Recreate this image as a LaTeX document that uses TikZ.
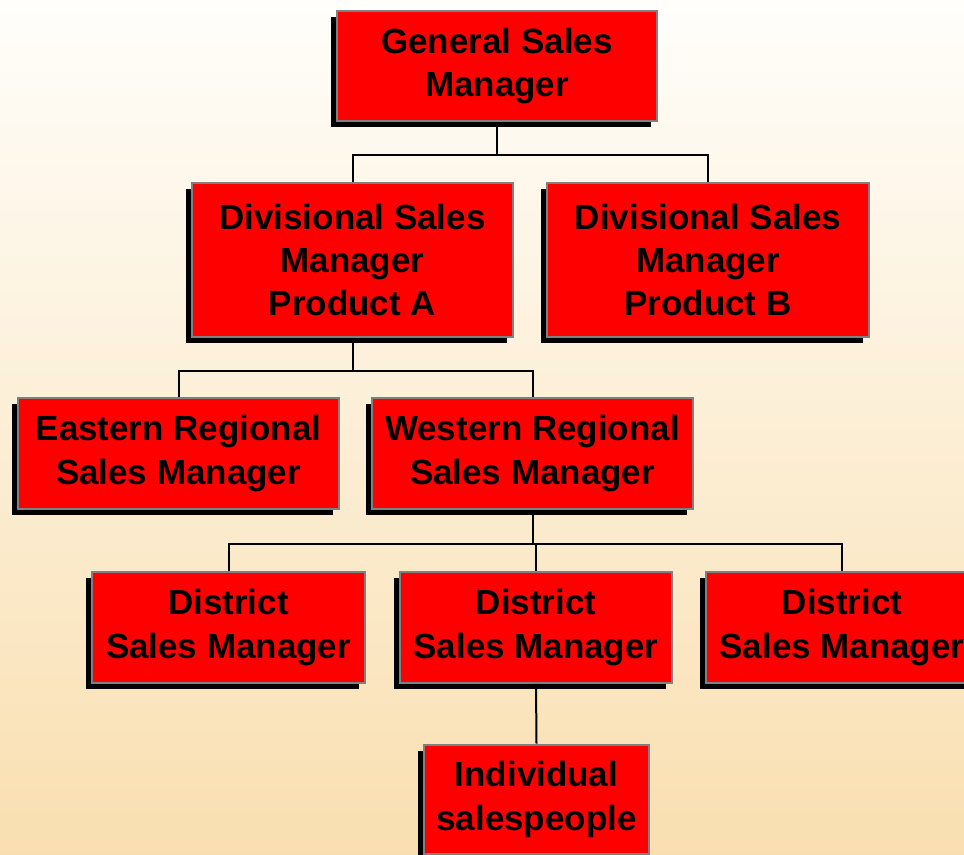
\documentclass[tikz,border=0pt]{standalone}
\usepackage{fontspec}
\setmainfont{Liberation Sans}
\usetikzlibrary{shadows}
\definecolor{bgtop}{RGB}{255,254,251}
\definecolor{bgbot}{RGB}{249,223,176}
\definecolor{boxred}{RGB}{255,0,0}
\definecolor{boxrim}{RGB}{128,128,128}
\begin{document}
\begin{tikzpicture}[x=0.02cm,y=-0.02cm,
		post/.style={draw=boxrim,line width=0.04cm,fill=boxred,inner sep=0pt,align=center,
			font=\fontsize{19.9}{24.7}\selectfont\bfseries,
			drop shadow={shadow xshift=-0.12cm,shadow yshift=-0.12cm,fill=black,opacity=1}},
		conn/.style={line width=0.04cm,black}]
		\useasboundingbox (0,0) rectangle (964,855);
		\shade[top color=bgtop,bottom color=bgbot] (0,0) rectangle (964,855);
		\node[post,minimum width=6.4cm,minimum height=2.2cm] (gsm) at (497,66) {General Sales\\Manager};
		\node[post,minimum width=6.42cm,minimum height=3.08cm] (dsmA) at (352.5,260) {Divisional Sales\\Manager\\Product A};
		\node[post,minimum width=6.44cm,minimum height=3.08cm] (dsmB) at (708,260) {Divisional Sales\\Manager\\Product B};
		\node[post,minimum width=6.42cm,minimum height=2.22cm] (ersm) at (178.5,453.5) {Eastern Regional\\Sales Manager};
		\node[post,minimum width=6.42cm,minimum height=2.22cm] (wrsm) at (532.5,453.5) {Western Regional\\Sales Manager};
		\node[post,minimum width=5.46cm,minimum height=2.22cm] (dist1) at (228.5,627.5) {District\\Sales Manager};
		\node[post,minimum width=5.46cm,minimum height=2.22cm] (dist2) at (536,627.5) {District\\Sales Manager};
		\node[post,minimum width=5.46cm,minimum height=2.22cm] (dist3) at (842,627.5) {District\\Sales Manager};
		\node[post,minimum width=4.5cm,minimum height=2.2cm] (indiv) at (536.5,799.5) {Individual\\salespeople};
		% reporting lines
		\draw[conn] (gsm.south) -- ++(0,33) coordinate (b1);
		\draw[conn] (dsmA.north) |- (b1) -| (dsmB.north);
		\draw[conn] (dsmA.south) -- ++(0,33) coordinate (b2);
		\draw[conn] (ersm.north) |- (b2) -| (wrsm.north);
		\draw[conn] (wrsm.south) -- ++(0,34) coordinate (b3);
		\draw[conn] (dist1.north) |- (b3) -| (dist3.north);
		\draw[conn] (dist2.north) -- (dist2.north |- b3);
		\draw[conn] (dist2.south) -- (indiv.north);
		\end{tikzpicture}
\end{document}
